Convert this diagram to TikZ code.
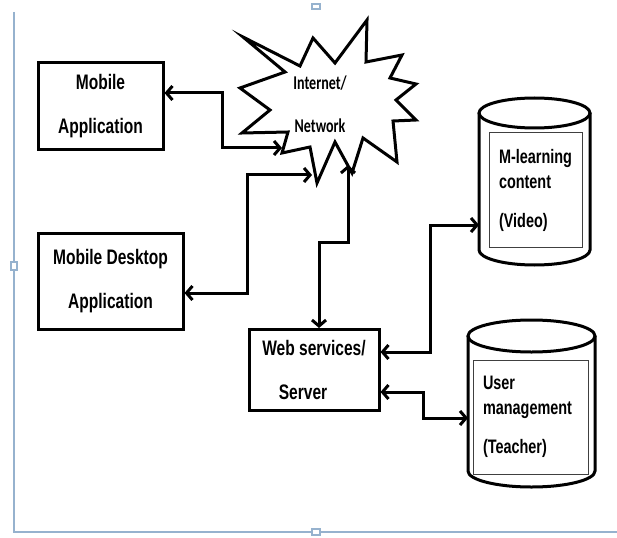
\documentclass[tikz,border=0pt]{standalone}
\usepackage{fontspec}
\setmainfont[FakeStretch=0.74]{Liberation Sans}
\newfontfamily\netfont[FakeStretch=0.72]{Carlito}
\usetikzlibrary{calc}
\usetikzlibrary{arrows.meta}
\tikzset{>={Straight Barb[length=6pt,width=14pt]}}
\definecolor{frameblue}{RGB}{150,178,206}

\begin{document}
\begin{tikzpicture}[x=1pt, y=-1pt,
	box/.style={draw, line width=3pt, inner sep=0pt, align=center, font=\bfseries\fontsize{21}{44}\selectfont},
	store/.style={draw=black!75, line width=1pt, inner xsep=10pt, inner ysep=0pt, align=left, font=\bfseries\fontsize{19.5}{25}\selectfont},
	wall/.style={line width=3pt},
	link/.style={line width=3pt, <->},
	frame/.style={draw=frameblue, line width=1.4pt}]
\useasboundingbox (0,0) rectangle (617,537);

\draw [frame] (14,12) -- (14,532) -- (617,532);
\draw [frame, fill=white] (11,262) rectangle (17,270);
\draw [frame, fill=white] (312,529) rectangle (320,535);
\draw [frame, fill=white] (312,4) rectangle (320,9);

\node (app) at (100.5,106.5) [box, minimum width=125pt, minimum height=87pt] {Mobile\\Application};
\node (desk) at (110.5,281) [box, minimum width=145pt, minimum height=96pt] {Mobile Desktop\\Application};
\node (web) at (314,370) [box, minimum width=130pt, minimum height=81pt] {Web services/\\\hspace*{-22pt}Server};

\draw [wall] (243,37) -- (300,66) -- (313,38) -- (335,63) -- (367,20) -- (366,62) -- (402,55)
	-- (390,78) -- (416,84) -- (396,100) -- (416,120) -- (393,121) -- (397,162) -- (363,138)
	-- (352,173) -- (335,142) -- (317,183) -- (310,147) -- (282,153) -- (288,132) -- (242,133)
	-- (270,110) -- (240,88) -- (285,72) -- cycle;
\node (net) at (320,104) [align=center, font=\netfont\bfseries\fontsize{19.5}{43}\selectfont] {Internet/\\Network};
\coordinate (net-a) at (282,148);
\coordinate (net-b) at (312,175);
\coordinate (net-c) at (348,165);

\draw [wall] (479,113) -- (479,250) arc [start angle=180, end angle=0, x radius=55.5, y radius=15] -- (590,113);
\draw [wall] (534.5,113) ellipse [x radius=55.5, y radius=15];
\node (video) at (535.5,190) [store, text width=73pt, minimum height=114pt] {M-learning\\content\\[14pt](Video)};
\coordinate (video-w) at (479,225);

\draw [wall] (468,336) -- (468,471) arc [start angle=180, end angle=0, x radius=63.5, y radius=16] -- (595,336);
\draw [wall] (531.5,336) ellipse [x radius=63.5, y radius=16];
\node (user) at (530.5,417) [store, text width=95pt, minimum height=114pt] {User\\management\\[14pt](Teacher)};
\coordinate (user-w) at (468,418);

\draw [link] ($(app.east) + (0,-13.5)$) -| ($(net-a) + (-60,0)$) -- (net-a);
\draw [link] ($(desk.east) + (0,12)$) -| ($(net-b) + (-65,0)$) -- (net-b);
\draw [link] (net-c) -- ++(0,77) -| ($(web.north) + (5,0)$);
\draw [link] ($(web.east) + (0,-18)$) -| ($(video-w) + (-49,0)$) -- (video-w);
\draw [link] ($(web.east) + (0,22)$) -| ($(user-w) + (-45,0)$) -- (user-w);
\end{tikzpicture}
\end{document}
